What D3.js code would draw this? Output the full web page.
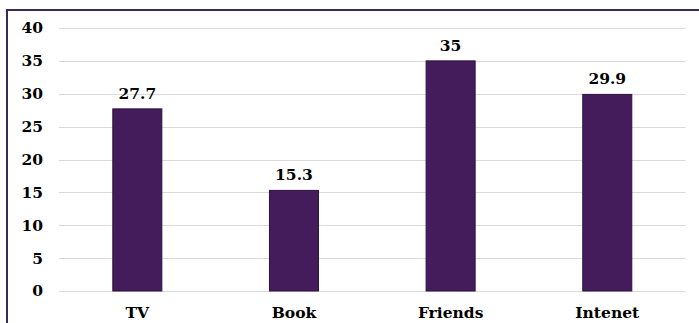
<!DOCTYPE html>
<html><head><meta charset="utf-8">
<script src="https://cdn.jsdelivr.net/npm/d3@7"></script>
<style>body{margin:0;background:#fff;}svg{display:block;}</style>
</head><body>
<script>
const categories = ["TV", "Book", "Friends", "Intenet"];
const values = [27.7, 15.3, 35, 29.9];
const valueLabels = ["27.7", "15.3", "35", "29.9"];
const yTicks = [0, 5, 10, 15, 20, 25, 30, 35, 40];

const W = 699, H = 323;
const svg = d3.select("body").append("svg").attr("width", W).attr("height", H);
svg.append("rect").attr("x", 0).attr("y", 0).attr("width", W).attr("height", H).attr("fill", "#fff");
svg.append("rect").attr("x", 7).attr("y", 10).attr("width", W + 20).attr("height", H + 20)
  .attr("fill", "none").attr("stroke", "#3d2a52").attr("stroke-width", 2);

const x = d3.scaleBand().domain(categories).range([59, 685.6]).paddingInner(0.687).paddingOuter(0.3435);
const y = d3.scaleLinear().domain([0, 40]).range([291, 28]);
const font = "DejaVu Serif";
const fs = 15.5;

const grid = svg.append("g");
grid.selectAll("line").data(yTicks).join("line")
  .attr("x1", 59).attr("x2", 685.6)
  .attr("y1", d => Math.round(y(d)) + 0.5).attr("y2", d => Math.round(y(d)) + 0.5)
  .attr("stroke", "#d9d9d9").attr("stroke-width", 1);

const yAxis = svg.append("g").attr("transform", "translate(59,0)")
  .call(d3.axisLeft(y).tickValues(yTicks).tickSize(0).tickPadding(16));
yAxis.select(".domain").remove();
yAxis.selectAll("text").attr("font-family", font).attr("font-weight", "bold")
  .attr("font-size", fs).attr("fill", "#000");

svg.append("g").selectAll("rect").data(values).join("rect")
  .attr("x", (d, i) => x(categories[i]))
  .attr("width", x.bandwidth())
  .attr("y", d => y(d))
  .attr("height", d => y(0) - y(d))
  .attr("fill", "#441c5c").attr("stroke", "#2e1240").attr("stroke-width", 1);

svg.append("g").selectAll("text").data(values).join("text")
  .attr("x", (d, i) => x(categories[i]) + x.bandwidth() / 2)
  .attr("y", d => y(d) - 10)
  .attr("text-anchor", "middle")
  .attr("font-family", font).attr("font-weight", "bold").attr("font-size", fs).attr("fill", "#000")
  .text((d, i) => valueLabels[i]);

const xAxis = svg.append("g").attr("transform", "translate(0,291)")
  .call(d3.axisBottom(x).tickSize(0).tickPadding(16));
xAxis.select(".domain").remove();
xAxis.selectAll("text").attr("font-family", font).attr("font-weight", "bold")
  .attr("font-size", fs).attr("fill", "#000");
</script>
</body></html>
